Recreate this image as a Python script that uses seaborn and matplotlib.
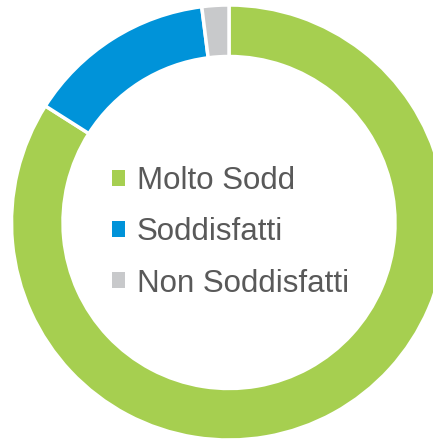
import matplotlib
matplotlib.use("Agg")
import matplotlib.pyplot as plt
from matplotlib.patches import Patch
import seaborn as sns

# ── Data ─────────────────────────────────────────────
labels = ["Molto Sodd", "Soddisfatti", "Non Soddisfatti"]
values = [84, 14, 2]
colors = ["#A6CF50", "#0093D9", "#C8C9CB"]

sns.set_theme(style="white")
plt.rcParams["font.family"] = ["Liberation Sans", "DejaVu Sans"]

fig = plt.figure(figsize=(4.33, 4.41), dpi=100)
ax = fig.add_axes([0, 0, 1, 1])

# donut, clockwise from 12 o'clock
ax.pie(values, colors=colors, startangle=90, counterclock=False,
       center=(229, 218.5), radius=217.5, frame=True,
       wedgeprops=dict(width=51.5, edgecolor="white", linewidth=2.5))
ax.set_xlim(0, 433)
ax.set_ylim(0, 441)
ax.axis("off")

handles = [Patch(facecolor=c, edgecolor="none") for c in colors]
leg = ax.legend(handles, labels, loc="upper left",
                bbox_to_anchor=(112 / 433, 1 - 166 / 441),
                frameon=False, fontsize=22.5, labelcolor="#595959",
                handlelength=0.4, handleheight=0.4, handletextpad=0.4,
                labelspacing=0.68, borderpad=0, borderaxespad=0)

fig.savefig("out.png", dpi=100)
plt.close(fig)
